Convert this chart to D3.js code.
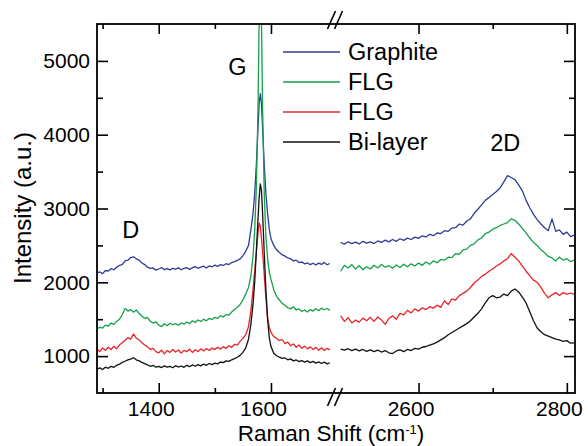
<html lang="en">
<head>
<meta charset="UTF-8" />
<title>Raman spectra</title>
<script src="https://d3js.org/d3.v7.min.js"></script>
<style>
  body { margin: 0; background: #fff; }
  svg { display: block; }
  text { font-family: "Liberation Sans", Arial, sans-serif; }
</style>
</head>
<body>
<svg width="588" height="446"></svg>
<script>
// Raman shift samples, left part (D and G bands) and right part (2D band)
var xLeft = [
  1290,1295,1300,1305,1310,1315,1320,1325,1330,1335,
  1340,1345,1350,1355,1360,1365,1370,1375,1380,1385,
  1390,1395,1400,1405,1410,1415,1420,1425,1430,1435,
  1440,1445,1450,1455,1460,1465,1470,1475,1480,1485,
  1490,1495,1500,1505,1510,1515,1520,1525,1530,1535,
  1540,1545,1550,1555,1560,1564,1568,1571,1574,1577,
  1579,1581,1583,1585,1588,1591,1594,1597,1600,1605,
  1610,1615,1620,1625,1630,1635,1640,1645,1650,1655,
  1660,1665,1670,1675,1680,1685,1690,1695,1700,1705
];
var xRight = [
  2495,2500,2505,2510,2515,2520,2525,2530,
  2535,2540,2545,2550,2555,2560,2565,2570,
  2575,2580,2585,2590,2595,2600,2605,2610,
  2615,2620,2625,2630,2635,2640,2645,2650,
  2655,2660,2665,2670,2675,2680,2685,2690,
  2695,2700,2705,2710,2715,2720,2725,2730,
  2735,2740,2745,2750,2755,2760,2765,2770,
  2775,2780,2785,2790,2795,2800,2805,2810
];

var graphiteLeft = [
  2126,2140,2118,2160,2152,2185,2170,2205,2228,2240,
  2290,2300,2335,2345,2318,2300,2262,2240,2205,2188,
  2195,2165,2180,2200,2172,2185,2168,2190,2178,2195,
  2170,2188,2200,2175,2198,2212,2190,2205,2218,2195,
  2222,2210,2232,2215,2240,2228,2252,2240,2268,2280,
  2296,2318,2360,2420,2500,2700,2930,3200,3600,4110,
  4430,4555,4430,4110,3600,3200,2930,2720,2590,2500,
  2440,2405,2372,2355,2330,2318,2290,2300,2268,2275,
  2250,2262,2240,2258,2235,2260,2242,2270,2238,2255
];
var flgGreenLeft = [
  1366,1392,1380,1420,1405,1448,1430,1470,1500,1560,
  1645,1610,1630,1595,1625,1580,1540,1512,1525,1470,
  1448,1465,1420,1400,1438,1412,1445,1425,1440,1418,
  1450,1432,1462,1440,1478,1455,1490,1468,1500,1478,
  1512,1495,1525,1510,1548,1530,1565,1555,1598,1630,
  1660,1700,1760,1840,1930,2080,2350,2700,3300,4400,
  5600,6600,5600,4400,3200,2620,2320,2140,2040,1900,
  1810,1760,1715,1690,1655,1640,1668,1625,1640,1605,
  1625,1598,1630,1610,1642,1615,1650,1628,1645,1620
];
var flgRedLeft = [
  1095,1060,1110,1078,1120,1090,1135,1100,1150,1180,
  1215,1250,1230,1300,1245,1220,1180,1150,1125,1090,
  1105,1060,1045,1080,1030,1075,1050,1090,1055,1082,
  1040,1078,1060,1095,1050,1085,1062,1098,1070,1102,
  1075,1110,1088,1120,1095,1128,1105,1140,1118,1160,
  1150,1200,1240,1290,1400,1600,1900,2150,2420,2680,
  2805,2760,2600,2420,2100,1780,1520,1390,1320,1265,
  1240,1210,1225,1170,1190,1140,1165,1120,1150,1105,
  1135,1098,1125,1090,1118,1080,1112,1075,1105,1085
];
var bilayerLeft = [
  824,840,818,850,835,862,848,875,890,915,
  930,948,960,978,950,935,915,898,880,862,
  875,850,862,845,868,850,860,842,870,852,
  866,848,875,858,880,862,885,868,892,875,
  900,885,905,895,920,912,935,928,950,965,
  985,1010,1050,1110,1230,1420,1700,2000,2420,2880,
  3150,3334,3250,2950,2400,1900,1500,1250,1130,1040,
  1005,985,968,975,950,962,935,948,925,940,
  918,935,912,928,905,922,900,918,895,910
];

var graphiteRight = [
  2540,2515,2550,2525,2545,2520,2555,2530,
  2548,2525,2560,2540,2572,2548,2580,2555,
  2590,2568,2598,2580,2612,2595,2630,2615,
  2650,2632,2668,2660,2700,2690,2735,2740,
  2790,2775,2830,2860,2935,2990,3050,3110,
  3150,3190,3230,3280,3360,3445,3420,3390,
  3320,3240,3110,3010,2920,2850,2790,2740,
  2700,2860,2690,2710,2650,2680,2620,2640
];
var flgGreenRight = [
  2150,2230,2195,2240,2180,2225,2170,2210,
  2180,2230,2195,2240,2205,2225,2190,2235,
  2200,2245,2210,2250,2220,2260,2230,2275,
  2245,2290,2265,2310,2300,2340,2335,2390,
  2380,2440,2450,2500,2520,2575,2600,2660,
  2680,2720,2740,2770,2790,2810,2860,2840,
  2790,2730,2670,2600,2540,2500,2440,2400,
  2350,2330,2290,2340,2300,2320,2280,2300
];
var flgRedRight = [
  1545,1470,1520,1450,1490,1460,1515,1480,
  1525,1470,1530,1490,1430,1510,1545,1500,
  1580,1560,1620,1585,1640,1610,1655,1630,
  1670,1650,1690,1660,1750,1700,1775,1760,
  1820,1850,1880,1930,1990,2030,2080,2110,
  2150,2180,2220,2250,2290,2320,2390,2340,
  2290,2220,2150,2090,2030,2000,1930,1850,
  1790,1830,1860,1820,1860,1840,1855,1835
];
var bilayerRight = [
  1095,1080,1100,1075,1095,1070,1090,1065,
  1085,1060,1080,1055,1075,1045,1035,1070,
  1085,1060,1090,1075,1105,1095,1120,1130,
  1150,1165,1190,1220,1250,1290,1320,1350,
  1380,1410,1440,1480,1530,1580,1640,1720,
  1790,1820,1790,1800,1840,1820,1880,1910,
  1870,1800,1720,1600,1480,1380,1330,1290,
  1270,1250,1230,1220,1200,1210,1175,1180
];

var seriesNames = ["Graphite", "FLG", "FLG", "Bi-layer"];
var seriesColors = ["#2e3c96", "#15a04c", "#e8242a", "#111111"];

var yMajor = [1000, 2000, 3000, 4000, 5000];
var yMinor = [1500, 2500, 3500, 4500];
var xLeftMajor = [1400, 1600];
var xLeftMinor = [1300, 1500];
var xRightMajor = [2600, 2800];
var xRightMinor = [2700];

var peakLabels = ["D", "G", "2D"];
var peakX = [1350, 1540, 2717];
var peakY = [2600, 4810, 3780];

var svg = d3.select("svg");
var pTop = 24, pBottom = 393, pLeft = 97, pRight = 575, brk = 335.5;
var font = "'Liberation Sans', Arial, sans-serif";

var xL = d3.scaleLinear().domain([1290, 1715]).range([pLeft, brk]);
var xR = d3.scaleLinear().domain([2488, 2811]).range([brk, pRight]);
var y = d3.scaleLinear().domain([500, 5500]).range([pBottom, pTop]);

svg.append("clipPath").attr("id", "plotClip")
  .append("rect")
  .attr("x", pLeft).attr("y", pTop)
  .attr("width", pRight - pLeft).attr("height", pBottom - pTop);

var leftSeries = [graphiteLeft, flgGreenLeft, flgRedLeft, bilayerLeft];
var rightSeries = [graphiteRight, flgGreenRight, flgRedRight, bilayerRight];

var plot = svg.append("g").attr("clip-path", "url(#plotClip)");

function drawSeries(xs, xVals, vals, color) {
  var line = d3.line()
    .x(function (d, i) { return xs(xVals[i]); })
    .y(function (d) { return y(d); });
  plot.append("path").datum(vals)
    .attr("d", line)
    .attr("fill", "none")
    .attr("stroke", color)
    .attr("stroke-width", 1.3)
    .attr("stroke-linejoin", "round");
}

leftSeries.forEach(function (vals, k) { drawSeries(xL, xLeft, vals, seriesColors[k]); });
rightSeries.forEach(function (vals, k) { drawSeries(xR, xRight, vals, seriesColors[k]); });

// axes, ticks point inward
function styleAxis(g, labels) {
  g.select(".domain").remove();
  g.selectAll("line").attr("stroke", "#000").attr("stroke-width", 1.6);
  if (labels) {
    g.selectAll("text").attr("font-size", 21).attr("font-family", font).attr("fill", "#000");
  } else {
    g.selectAll("text").remove();
  }
}

function addAxis(axis, tx, ty, labels) {
  return svg.append("g")
    .attr("transform", "translate(" + tx + "," + ty + ")")
    .call(axis)
    .call(function (g) { styleAxis(g, labels); });
}

// bottom labels sit a little left of their ticks, as in the original
var bl = addAxis(d3.axisBottom(xL).tickValues(xLeftMajor).tickSize(-10).tickPadding(8).tickFormat(d3.format("d")), 0, pBottom, true);
bl.selectAll("text").attr("dx", -8);
addAxis(d3.axisBottom(xL).tickValues(xLeftMinor).tickSize(-5), 0, pBottom, false);
var br = addAxis(d3.axisBottom(xR).tickValues(xRightMajor).tickSize(-10).tickPadding(8).tickFormat(d3.format("d")), 0, pBottom, true);
br.selectAll("text").attr("dx", -8);
addAxis(d3.axisBottom(xR).tickValues(xRightMinor).tickSize(-5), 0, pBottom, false);

addAxis(d3.axisTop(xL).tickValues(xLeftMajor).tickSize(-10), 0, pTop, false);
addAxis(d3.axisTop(xL).tickValues(xLeftMinor).tickSize(-5), 0, pTop, false);
addAxis(d3.axisTop(xR).tickValues(xRightMajor).tickSize(-10), 0, pTop, false);
addAxis(d3.axisTop(xR).tickValues(xRightMinor).tickSize(-5), 0, pTop, false);

addAxis(d3.axisLeft(y).tickValues(yMajor).tickSize(-11).tickPadding(7).tickFormat(d3.format("d")), pLeft, 0, true);
addAxis(d3.axisLeft(y).tickValues(yMinor).tickSize(-6), pLeft, 0, false);
addAxis(d3.axisRight(y).tickValues(yMajor).tickSize(-11), pRight, 0, false);
addAxis(d3.axisRight(y).tickValues(yMinor).tickSize(-6), pRight, 0, false);

// frame
svg.append("rect")
  .attr("x", pLeft).attr("y", pTop)
  .attr("width", pRight - pLeft).attr("height", pBottom - pTop)
  .attr("fill", "none").attr("stroke", "#000").attr("stroke-width", 1.8);

// axis break marks
[pTop - 4, pBottom + 4].forEach(function (cy) {
  [brk - 4, brk + 3].forEach(function (cx) {
    svg.append("line")
      .attr("x1", cx - 4).attr("y1", cy + 9)
      .attr("x2", cx + 4).attr("y2", cy - 9)
      .attr("stroke", "#000").attr("stroke-width", 1.6);
  });
});

// legend
seriesNames.forEach(function (name, i) {
  var ly = 52 + i * 30;
  svg.append("line")
    .attr("x1", 283).attr("x2", 340)
    .attr("y1", ly).attr("y2", ly)
    .attr("stroke", seriesColors[i]).attr("stroke-width", 1.6);
  svg.append("text")
    .attr("x", 348).attr("y", ly + 8)
    .attr("font-size", 23.5).attr("font-family", font)
    .text(name);
});

// band labels
peakLabels.forEach(function (lab, i) {
  var sx = peakX[i] < 2000 ? xL(peakX[i]) : xR(peakX[i]);
  svg.append("text")
    .attr("x", sx).attr("y", y(peakY[i]))
    .attr("text-anchor", "middle")
    .attr("font-size", 23.5).attr("font-family", font)
    .text(lab);
});

// axis titles
svg.append("text")
  .attr("transform", "translate(31,208) rotate(-90)")
  .attr("text-anchor", "middle")
  .attr("font-size", 24).attr("font-family", font)
  .text("Intensity (a.u.)");

var xt = svg.append("text")
  .attr("x", 331).attr("y", 441)
  .attr("text-anchor", "middle")
  .attr("font-size", 22.5).attr("font-family", font);
xt.append("tspan").text("Raman Shift (cm");
xt.append("tspan").attr("font-size", 13).attr("dy", -7).text("-1");
xt.append("tspan").attr("dy", 7).text(")");
</script>
</body>
</html>
